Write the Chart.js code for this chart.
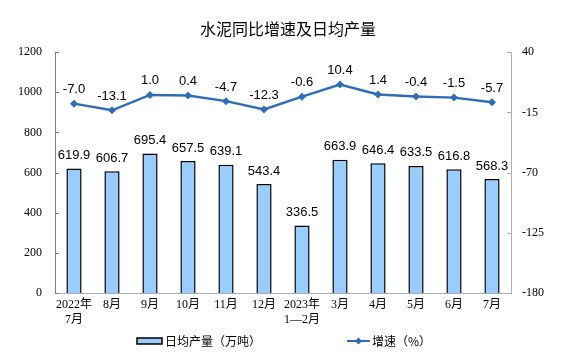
<!DOCTYPE html>
<html>
<head>
<meta charset="utf-8">
<script src="https://cdn.jsdelivr.net/npm/chart.js@4.4.0/dist/chart.umd.min.js"></script>
<style>
html,body{margin:0;padding:0;background:#fff;}
#wrap{width:576px;height:357px;position:relative;}
</style>
</head>
<body>
<div id="wrap"><canvas id="c" width="576" height="357"></canvas></div>
<script>
const categories = [['2022年','7月'],'8月','9月','10月','11月','12月',['2023年','1—2月'],'3月','4月','5月','6月','7月'];
const dailyOutput = [619.9, 606.7, 695.4, 657.5, 639.1, 543.4, 336.5, 663.9, 646.4, 633.5, 616.8, 568.3];
const growthRate = [-7.0, -13.1, 1.0, 0.4, -4.7, -12.3, -0.6, 10.4, 1.4, -0.4, -1.5, -5.7];
const leftTicks = [0, 200, 400, 600, 800, 1000, 1200];
const rightTicks = [-180, -125, -70, -15, 40];
const titleText = '水泥同比增速及日均产量';
const barLegend = '日均产量（万吨）';
const lineLegend = '增速（%）';

const BAR_FILL = '#99CCFF';
const LINE_COLOR = '#2E6DB8';
const SERIF = '"Liberation Serif", "Noto Sans CJK SC", serif';
const SANS = '"Liberation Sans", Arial, sans-serif';
const CJK = '"Noto Sans CJK SC", sans-serif';

const valueLabels = {
  id: 'valueLabels',
  afterDatasetsDraw(chart) {
    const ctx = chart.ctx;
    ctx.save();
    ctx.font = '13px ' + SANS;
    ctx.fillStyle = '#000';
    ctx.textAlign = 'center';
    ctx.textBaseline = 'middle';
    chart.data.datasets.forEach((ds, i) => {
      const meta = chart.getDatasetMeta(i);
      meta.data.forEach((el, j) => {
        const off = ds.type === 'line' ? 14 : 13;
        ctx.fillText(ds.data[j].toFixed(1), el.x, el.y - off);
      });
    });
    ctx.restore();
  }
};

const innerTicks = {
  id: 'innerTicks',
  afterDraw(chart) {
    const ctx = chart.ctx;
    const yl = chart.scales.y, yr = chart.scales.y2;
    ctx.save();
    ctx.lineWidth = 1;
    ctx.strokeStyle = '#808080';
    leftTicks.forEach(v => {
      const y = Math.round(yl.getPixelForValue(v)) + 0.5;
      ctx.beginPath(); ctx.moveTo(yl.right, y); ctx.lineTo(yl.right + 4, y); ctx.stroke();
    });
    ctx.strokeStyle = '#b0b0b0';
    rightTicks.forEach(v => {
      const y = Math.round(yr.getPixelForValue(v)) + 0.5;
      ctx.beginPath(); ctx.moveTo(yr.left, y); ctx.lineTo(yr.left - 4, y); ctx.stroke();
    });
    ctx.restore();
  }
};

const customLegend = {
  id: 'customLegend',
  afterDraw(chart) {
    const ctx = chart.ctx;
    const y = 341;
    ctx.save();
    ctx.fillStyle = BAR_FILL;
    ctx.strokeStyle = '#000';
    ctx.lineWidth = 1.5;
    ctx.fillRect(137, y - 3, 25, 6);
    ctx.strokeRect(137, y - 3, 25, 6);
    ctx.fillStyle = '#000';
    ctx.font = '12px ' + CJK;
    ctx.textAlign = 'left';
    ctx.textBaseline = 'middle';
    ctx.fillText(barLegend, 165, y);
    ctx.strokeStyle = LINE_COLOR;
    ctx.lineWidth = 2;
    ctx.beginPath(); ctx.moveTo(347, y); ctx.lineTo(370, y); ctx.stroke();
    ctx.fillStyle = LINE_COLOR;
    ctx.beginPath();
    ctx.moveTo(358.5, y - 3.5); ctx.lineTo(362, y); ctx.lineTo(358.5, y + 3.5); ctx.lineTo(355, y);
    ctx.closePath(); ctx.fill();
    ctx.fillStyle = '#000';
    ctx.fillText(lineLegend, 372, y);
    ctx.restore();
  }
};

new Chart(document.getElementById('c'), {
  data: {
    labels: categories,
    datasets: [
      {
        type: 'line',
        label: lineLegend,
        data: growthRate,
        yAxisID: 'y2',
        borderColor: LINE_COLOR,
        backgroundColor: LINE_COLOR,
        borderWidth: 2.5,
        pointStyle: 'rectRot',
        pointRadius: 4,
        pointBorderWidth: 0,
        tension: 0,
        order: 0
      },
      {
        type: 'bar',
        label: barLegend,
        data: dailyOutput,
        yAxisID: 'y',
        backgroundColor: BAR_FILL,
        borderColor: '#000',
        borderWidth: 1.5,
        barPercentage: 0.4,
        categoryPercentage: 1.0,
        order: 1
      }
    ]
  },
  options: {
    responsive: false,
    animation: false,
    devicePixelRatio: 1,
    layout: { padding: { left: 0, right: 0, top: 0, bottom: 28 } },
    plugins: {
      legend: { display: false },
      tooltip: { enabled: false },
      title: {
        display: true,
        text: titleText,
        color: '#000',
        font: { family: CJK, size: 16, weight: 'normal' },
        padding: { top: 19, bottom: 14 }
      }
    },
    scales: {
      x: {
        offset: true,
        grid: { display: false, drawTicks: false },
        border: { display: true, color: '#b0b0b0', width: 1 },
        ticks: { color: '#000', font: { family: SERIF, size: 12 }, padding: 5, maxRotation: 0, autoSkip: false },
        afterFit(s) { s.height = 36; }
      },
      y: {
        position: 'left',
        min: 0, max: 1200,
        afterBuildTicks(s) { s.ticks = leftTicks.map(v => ({ value: v })); },
        grid: { display: false, drawTicks: false },
        border: { display: true, color: '#808080', width: 1 },
        ticks: { color: '#000', font: { family: SERIF, size: 12 }, padding: 13, callback: v => String(v) },
        afterFit(s) { s.width = 55; }
      },
      y2: {
        position: 'right',
        min: -180, max: 40,
        afterBuildTicks(s) { s.ticks = rightTicks.map(v => ({ value: v })); },
        grid: { display: false, drawTicks: false },
        border: { display: true, color: '#b0b0b0', width: 1 },
        ticks: { color: '#000', font: { family: SERIF, size: 12 }, padding: 11, callback: v => String(v) },
        afterFit(s) { s.width = 65; }
      }
    }
  },
  plugins: [valueLabels, innerTicks, customLegend]
});
</script>
</body>
</html>
